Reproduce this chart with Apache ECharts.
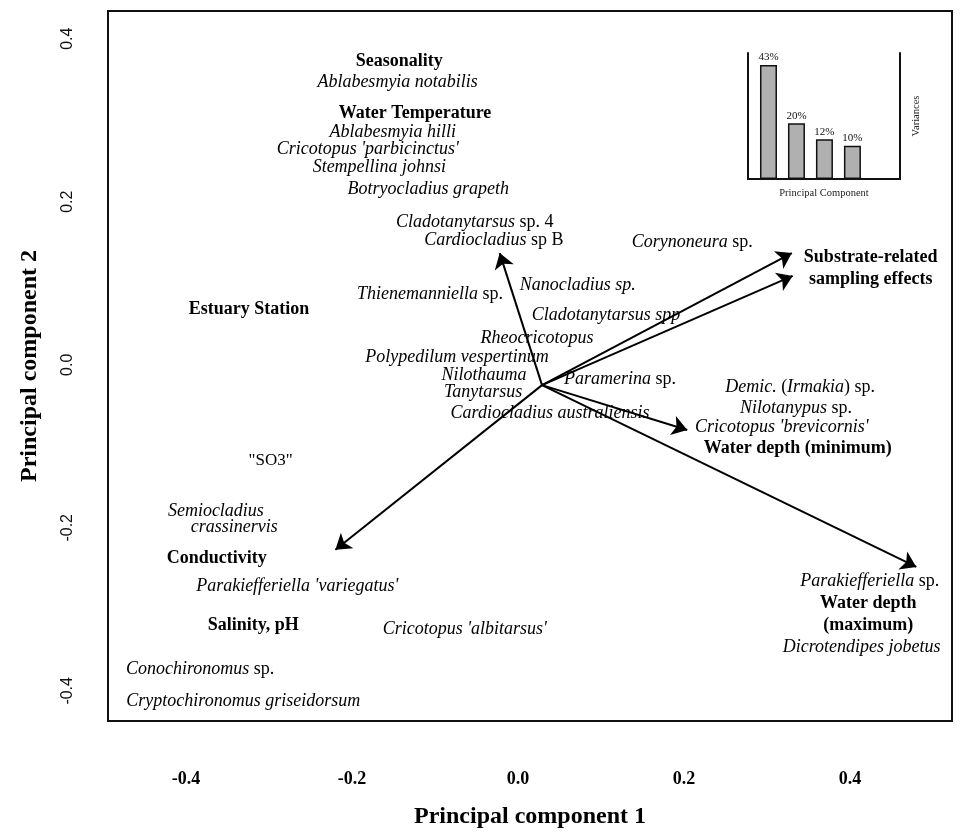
<!DOCTYPE html>
<html>
<head>
<meta charset="utf-8">
<script src="https://cdn.jsdelivr.net/npm/echarts@6/dist/echarts.min.js"></script>
<style>
html,body{margin:0;padding:0;background:#fff;}
#chart{width:960px;height:833px;}
</style>
</head>
<body>
<div id="chart"></div>
<script>
// ---- Axis ticks ----
const xTicks = [-0.4, -0.2, 0.0, 0.2, 0.4];
const xTickLabels = ['-0.4', '-0.2', '0.0', '0.2', '0.4'];
const yTicks = [-0.4, -0.2, 0.0, 0.2, 0.4];
const yTickLabels = ['-0.4', '-0.2', '0.0', '0.2', '0.4'];

// ---- Environmental vectors (arrows from origin) ----
const arrowOrigin = [0.029, -0.025];
const arrowX = [-0.022, 0.330, 0.331, 0.204, 0.480, -0.220];
const arrowY = [0.137, 0.137, 0.109, -0.080, -0.248, -0.227];

// ---- Variable labels (bold) ----
const variableNames = ['Seasonality', 'Water Temperature', 'Estuary Station',
  'Substrate-related\nsampling effects', 'Water depth (minimum)', 'Water depth\n(maximum)',
  'Conductivity', 'Salinity, pH'];
const variableX = [-0.143, -0.124, -0.324, 0.425, 0.337, 0.422, -0.363, -0.319];
const variableY = [0.372, 0.309, 0.0675, 0.118, -0.102, -0.306, -0.237, -0.320];

// ---- Other plain labels ----
const plainNames = ['"SO3"'];
const plainX = [-0.298];
const plainY = [-0.117];

// ---- Species labels (_..._ = italic) ----
const speciesNames = [
  '_Ablabesmyia notabilis_', '_Ablabesmyia hilli_', "_Cricotopus 'parbicinctus'_",
  '_Stempellina johnsi_', '_Botryocladius grapeth_', '_Cladotanytarsus_ sp. 4',
  '_Cardiocladius_ sp B', '_Corynoneura_ sp.', '_Nanocladius sp._',
  '_Thienemanniella_ sp.', '_Cladotanytarsus spp_', '_Rheocricotopus_',
  '_Polypedilum vespertinum_', '_Nilothauma_', '_Tanytarsus_', '_Paramerina_ sp.',
  '_Cardiocladius australiensis_', '_Demic._ (_Irmakia_) sp.', '_Nilotanypus_ sp.',
  "_Cricotopus 'brevicornis'_", '_Semiocladius_', '_crassinervis_',
  "_Parakiefferiella 'variegatus'_", "_Cricotopus 'albitarsus'_", '_Parakiefferiella_ sp.',
  '_Dicrotendipes jobetus_', '_Conochironomus_ sp.', '_Cryptochironomus griseidorsum_'
];
const speciesX = [-0.145, -0.151, -0.181, -0.167, -0.108, -0.052, -0.029, 0.210, 0.072,
  -0.106, 0.106, 0.023, -0.0735, -0.041, -0.042, 0.123, 0.0386, 0.340, 0.335, 0.318,
  -0.364, -0.342, -0.266, -0.064, 0.424, 0.414, -0.383, -0.331];
const speciesY = [0.346, 0.285, 0.264, 0.242, 0.215, 0.175, 0.153, 0.150, 0.098,
  0.086, 0.061, 0.033, 0.0098, -0.0123, -0.034, -0.018, -0.060, -0.027, -0.053, -0.077,
  -0.180, -0.199, -0.272, -0.324, -0.266, -0.347, -0.374, -0.413];

// ---- Inset scree plot ----
const screeComponents = [1, 2, 3, 4];
const screeVariances = [4.3, 2.1, 1.5, 1.25];
const screeLabels = ['43%', '20%', '12%', '10%'];

const SERIF = '"Liberation Serif", "DejaVu Serif", serif';
const SANS = '"Liberation Sans", Arial, sans-serif';
const INK = '#000';

function toRich(s) {
  const parts = s.split('_');
  let out = '';
  parts.forEach((p, i) => {
    if (!p) return;
    out += (i % 2 === 1 ? '{i|' : '{n|') + p + '}';
  });
  return out;
}

const chart = echarts.init(document.getElementById('chart'), null, {renderer: 'canvas'});

const speciesData = speciesNames.map((n, i) => ({value: [speciesX[i], speciesY[i]], name: n}));
const variableData = variableNames.map((n, i) => ({value: [variableX[i], variableY[i]], name: n}));
const plainData = plainNames.map((n, i) => ({value: [plainX[i], plainY[i]], name: n}));
const arrowData = arrowX.map((x, i) => ({coords: [arrowOrigin, [x, arrowY[i]]]}));

function tickLabel(v, ticks, labels) {
  let best = 0;
  ticks.forEach((t, i) => { if (Math.abs(t - v) < Math.abs(ticks[best] - v)) best = i; });
  return labels[best];
}

const labelBase = {
  show: true, position: 'inside', align: 'center', verticalAlign: 'middle',
  textBorderWidth: 0, textShadowBlur: 0, opacity: 1
};

const option = {
  animation: false,
  backgroundColor: '#fff',
  grid: [
    {left: 108, right: 8, top: 11, bottom: 112, show: true, borderColor: '#111', borderWidth: 2,
     backgroundColor: 'transparent', containLabel: false, outerBoundsMode: 'none'},
    {left: 748, width: 152, top: 53, height: 126, show: false, containLabel: false, outerBoundsMode: 'none'}
  ],
  xAxis: [
    {
      type: 'value', gridIndex: 0, min: -0.494, max: 0.523,
      splitLine: {show: false}, axisTick: {show: false}, axisLine: {show: false},
      axisLabel: {
        customValues: xTicks, margin: 49, color: INK,
        fontFamily: SERIF, fontWeight: 'bold', fontSize: 18,
        formatter: v => tickLabel(v, xTicks, xTickLabels)
      },
      name: 'Principal component 1', nameLocation: 'middle', nameGap: 84,
      nameTextStyle: {fontFamily: SERIF, fontWeight: 'bold', fontSize: 24, color: INK}
    },
    {
      type: 'value', gridIndex: 1, min: 0.268, max: 5.70,
      splitLine: {show: false}, axisTick: {show: false}, axisLabel: {show: false},
      axisLine: {show: true, onZero: false, lineStyle: {color: '#111', width: 2}},
      name: 'Principal Component', nameLocation: 'middle', nameGap: 9,
      nameTextStyle: {fontFamily: SERIF, fontSize: 10.5, color: '#222'}
    }
  ],
  yAxis: [
    {
      type: 'value', gridIndex: 0, min: -0.437, max: 0.434,
      splitLine: {show: false}, axisTick: {show: false}, axisLine: {show: false},
      axisLabel: {
        customValues: yTicks, margin: 32, rotate: 90, color: '#111',
        fontFamily: SANS, fontSize: 16,
        formatter: v => tickLabel(v, yTicks, yTickLabels)
      },
      name: 'Principal component 2', nameLocation: 'middle', nameGap: 66, nameRotate: 90,
      nameTextStyle: {fontFamily: SERIF, fontWeight: 'bold', fontSize: 24, color: INK}
    },
    {
      type: 'value', gridIndex: 1, min: 0, max: 4.75, position: 'left',
      splitLine: {show: false}, axisTick: {show: false}, axisLabel: {show: false},
      axisLine: {show: true, onZero: false, lineStyle: {color: '#111', width: 2}}
    },
    {
      type: 'value', gridIndex: 1, min: 0, max: 4.75, position: 'right',
      splitLine: {show: false}, axisTick: {show: false}, axisLabel: {show: false},
      axisLine: {show: true, onZero: false, lineStyle: {color: '#111', width: 2}},
      name: 'Variances', nameLocation: 'middle', nameGap: 11, nameRotate: 90,
      nameTextStyle: {fontFamily: SERIF, fontSize: 10.5, color: '#222'}
    }
  ],
  series: [
    {
      type: 'lines', coordinateSystem: 'cartesian2d', xAxisIndex: 0, yAxisIndex: 0,
      data: arrowData, symbol: ['none', 'arrow'], symbolSize: 15,
      lineStyle: {color: '#000', width: 2, opacity: 1}, silent: true, z: 3
    },
    {
      type: 'scatter', xAxisIndex: 0, yAxisIndex: 0, data: speciesData,
      symbol: 'circle', symbolSize: 0, itemStyle: {color: '#000'}, silent: true, z: 5,
      label: Object.assign({}, labelBase, {
        formatter: p => toRich(p.name),
        rich: {
          i: {fontFamily: SERIF, fontStyle: 'italic', fontSize: 18, color: INK},
          n: {fontFamily: SERIF, fontSize: 18, color: INK}
        }
      })
    },
    {
      type: 'scatter', xAxisIndex: 0, yAxisIndex: 0, data: variableData,
      symbol: 'circle', symbolSize: 0, itemStyle: {color: '#000'}, silent: true, z: 5,
      label: Object.assign({}, labelBase, {
        formatter: p => p.name, fontFamily: SERIF, fontWeight: 'bold', fontSize: 18,
        color: INK, lineHeight: 22
      })
    },
    {
      type: 'scatter', xAxisIndex: 0, yAxisIndex: 0, data: plainData,
      symbol: 'circle', symbolSize: 0, itemStyle: {color: '#000'}, silent: true, z: 5,
      label: Object.assign({}, labelBase, {
        formatter: p => p.name, fontFamily: SERIF, fontSize: 17, color: INK
      })
    },
    {
      type: 'bar', xAxisIndex: 1, yAxisIndex: 1,
      data: screeComponents.map((c, i) => [c, screeVariances[i]]),
      barWidth: 17,
      itemStyle: {color: '#b0b0b0', borderColor: '#111', borderWidth: 1.5},
      label: {
        show: true, position: 'top', distance: 2,
        formatter: p => screeLabels[p.dataIndex],
        fontFamily: SERIF, fontSize: 11, color: '#111'
      },
      silent: true
    }
  ]
};
chart.setOption(option);
</script>
</body>
</html>
